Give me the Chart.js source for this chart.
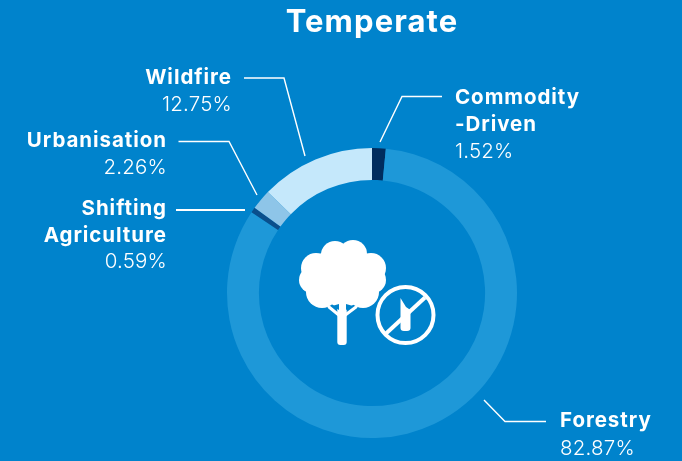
<!DOCTYPE html>
<html><head><meta charset="utf-8">
<style>html,body{margin:0;padding:0;background:#0083CC}#c{display:block;width:682px;height:461px}</style>
<script src="https://cdn.jsdelivr.net/npm/chart.js@4/dist/chart.umd.min.js"></script>
</head><body>
<div id="w" style="position:absolute;left:0;top:0;width:682px;height:461px"><canvas id="c"></canvas></div>
<script>
const titleText = 'Temperate';
const categories = ['Commodity-Driven','Forestry','Shifting Agriculture','Urbanisation','Wildfire'];
const shares = [1.52,82.87,0.59,2.26,12.75];
const shareLabels = ['1.52%','82.87%','0.59%','2.26%','12.75%'];
const sliceColors = ['#002D5E','#1E98D8','#0A4F8C','#8EC5E8','#C5E8FB'];
const FONT = 'Inter, "Open Sans", sans-serif';
const BG = '#0083CC';

const callouts = [
 {lines:['Commodity','-Driven'],pct:shareLabels[0],x:455,y:[104,131],py:158,align:'left',path:[[442,96.5],[402,96.5],[380,142]],w:1.4},
 {lines:['Forestry'],pct:shareLabels[1],x:560,y:[427],py:455,align:'left',path:[[484,400],[505,421.5],[546,421.5]],w:1.4},
 {lines:['Shifting','Agriculture'],pct:shareLabels[2],x:167,y:[215,242],py:268,align:'right',path:[[176,210],[245,210]],w:2},
 {lines:['Urbanisation'],pct:shareLabels[3],x:167,y:[147],py:174,align:'right',path:[[178.5,141.5],[229,141.5],[257,195]],w:1.4},
 {lines:['Wildfire'],pct:shareLabels[4],x:232,y:[84],py:111,align:'right',path:[[244,78],[284,78],[305,156]],w:1.4},
];

function drawIcon(ctx){
  ctx.save();
  ctx.fillStyle='#fff';ctx.strokeStyle='#fff';
  [[335,255,14],[353,254,14],[316,268,15],[371,268,15],[312,280,13],[373,280,13],[322,292,16],[363,292,16],[343,275,31],[343,290,18]]
    .forEach(([x,y,r])=>{ctx.beginPath();ctx.arc(x,y,r,0,Math.PI*2);ctx.fill();});
  ctx.beginPath();ctx.roundRect(337.3,300,9.4,45,3);ctx.fill();
  ctx.fillStyle=BG;
  ctx.beginPath();ctx.moveTo(339,304);ctx.lineTo(339,310);ctx.lineTo(332,306);ctx.closePath();ctx.fill();
  ctx.beginPath();ctx.moveTo(346,304);ctx.lineTo(346,310);ctx.lineTo(353,306);ctx.closePath();ctx.fill();
  ctx.fillStyle='#fff';
  ctx.lineWidth=3;ctx.lineCap='round';
  ctx.beginPath();ctx.moveTo(340,316);ctx.lineTo(329,307);ctx.moveTo(344,316);ctx.lineTo(356,307);ctx.stroke();
  ctx.lineCap='butt';
  ctx.lineWidth=4;
  ctx.beginPath();ctx.arc(405.5,315,28,0,Math.PI*2);ctx.stroke();
  ctx.beginPath();ctx.moveTo(386,333.5);ctx.lineTo(425,297.5);ctx.stroke();
  ctx.beginPath();ctx.moveTo(400.5,298);ctx.lineTo(406,307);ctx.lineTo(410.5,310);ctx.lineTo(410.5,328);
  ctx.quadraticCurveTo(410.5,331,407,331);ctx.lineTo(404,331);ctx.quadraticCurveTo(400.5,331,400.5,328);ctx.closePath();ctx.fill();
  ctx.restore();
}

const calloutPlugin = {
  id:'callouts',
  afterDraw(chart){
    const ctx=chart.ctx;
    ctx.save();
    ctx.textBaseline='alphabetic';
    ctx.fillStyle='#fff';ctx.strokeStyle='#fff';
    callouts.forEach(c=>{
      ctx.textAlign=c.align;
      ctx.font='700 20.5px '+FONT;
      ctx.letterSpacing='0.95px';
      c.lines.forEach((t,i)=>ctx.fillText(t,c.x,c.y[i]));
      ctx.font='300 20.5px '+FONT;
      ctx.letterSpacing='0.2px';
      ctx.fillText(c.pct,c.x,c.py);
      ctx.letterSpacing='0px';
      ctx.lineWidth=c.w;ctx.beginPath();
      c.path.forEach(([x,y],i)=>i?ctx.lineTo(x,y):ctx.moveTo(x,y));
      ctx.stroke();
    });
    drawIcon(ctx);
    ctx.restore();
  }
};
const bgPlugin={id:'bg',beforeDraw(chart){const c=chart.ctx;c.fillStyle=BG;c.fillRect(0,0,chart.width,chart.height);c.letterSpacing='1.1px';},
  afterDatasetsDraw(chart){chart.ctx.letterSpacing='0px';}};

new Chart(document.getElementById('c'),{
  type:'doughnut',
  data:{labels:categories,datasets:[{data:shares,backgroundColor:sliceColors,borderWidth:0}]},
  options:{
    responsive:true,maintainAspectRatio:false,animation:false,
    cutout:'78%',rotation:0,
    layout:{padding:{left:227,right:165,top:4,bottom:23}},
    plugins:{
      legend:{display:false},tooltip:{enabled:false},
      title:{display:true,text:titleText,color:'#fff',fullSize:false,font:{family:FONT,size:31,weight:'700',lineHeight:1.2},padding:{top:0,bottom:106.8}}
    }
  },
  plugins:[bgPlugin,calloutPlugin]
});
</script></body></html>
